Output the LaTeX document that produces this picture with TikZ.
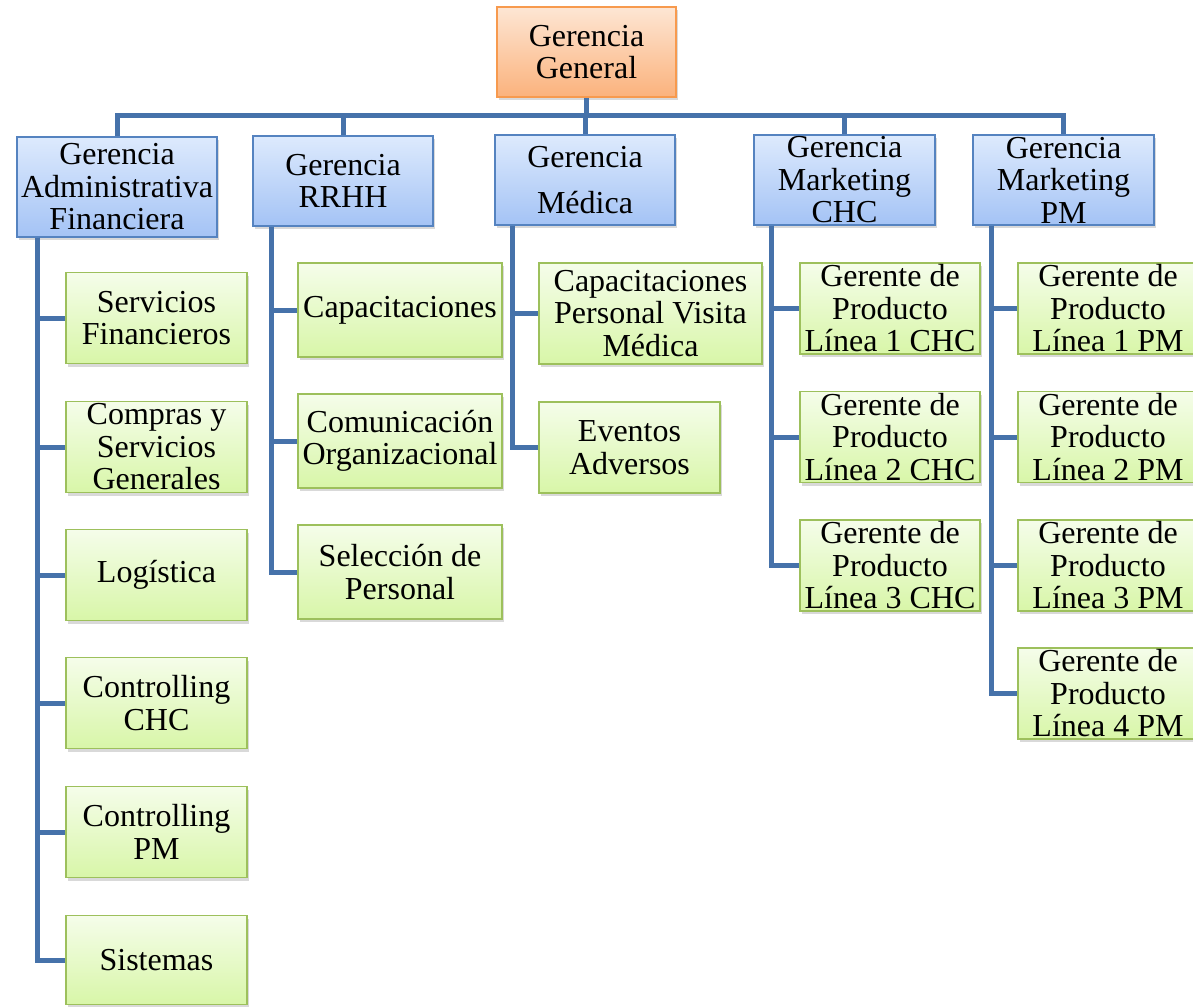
\documentclass[tikz,border=0pt]{standalone}
\usepackage{fontspec}
\setmainfont{Liberation Serif}
\usepackage{tikz}
\usetikzlibrary{positioning, shadows}

\definecolor{linkblue}{HTML}{4672AA}
\definecolor{blueline}{HTML}{5583C0}
\definecolor{bluetop}{HTML}{DDEAFD}
\definecolor{bluebot}{HTML}{A4C3F5}
\definecolor{greenline}{HTML}{9DC05C}
\definecolor{greentop}{HTML}{F5FDEA}
\definecolor{greenbot}{HTML}{D8F6A8}
\definecolor{orangeline}{HTML}{F79A4E}
\definecolor{orangetop}{HTML}{FDE6D4}
\definecolor{orangebot}{HTML}{FBB27C}

\begin{document}
\begin{tikzpicture}[x=1pt, y=-1pt,
  box/.style={draw, line width=1.6pt, inner sep=0pt, align=center,
    font=\fontsize{32}{32.5}\selectfont,
    drop shadow={opacity=0.3, shadow xshift=2pt, shadow yshift=-3pt}},
  topbox/.style={box, draw=orangeline, top color=orangetop, bottom color=orangebot,
    minimum width=179pt, minimum height=90pt},
  headbox/.style={box, draw=blueline, top color=bluetop, bottom color=bluebot,
    minimum width=180pt, minimum height=90pt},
  unitbox/.style={box, draw=greenline, top color=greentop, bottom color=greenbot,
    minimum width=181pt, minimum height=91pt},
  link/.style={draw=linkblue, line width=5pt}]
  \useasboundingbox (0,0) rectangle (1193,1006);
  % Top
  \node[topbox] (gg) at (586.5,52) {Gerencia\\General};
  \coordinate (bus) at (0,116);
  % Managements
  \node[headbox, minimum width=200pt, minimum height=100pt] (adm) at (117,187)
    {Gerencia\\Administrativa\\Financiera};
  \node[headbox] (rrhh) at (343,181) {Gerencia\\RRHH};
  \node[headbox] (med) at (585,180) {Gerencia\\[13pt]Médica};
  \node[headbox, minimum width=181pt] (chc) at (844.5,180) {Gerencia\\Marketing\\CHC};
  \node[headbox, minimum width=181pt] (pm) at (1063.5,180) {Gerencia\\Marketing\\PM};
  % Administrativa Financiera
  \node[unitbox] (sf) at (156.5,318) {Servicios\\Financieros};
  \node[unitbox] (csg) at (156.5,447) {Compras y\\Servicios\\Generales};
  \node[unitbox] (log) at (156.5,575) {Logística};
  \node[unitbox] (cchc) at (156.5,703) {Controlling\\CHC};
  \node[unitbox] (cpm) at (156.5,832) {Controlling\\PM};
  \node[unitbox, minimum height=89pt] (sis) at (156.5,960) {Sistemas};
  % RRHH
  \node[unitbox, minimum width=204pt, minimum height=94pt] (cap) at (400,310) {Capacitaciones};
  \node[unitbox, minimum width=204pt, minimum height=94pt] (com) at (400,441)
    {Comunicación\\Organizacional};
  \node[unitbox, minimum width=204pt, minimum height=94pt] (sel) at (400,572)
    {Selección de\\Personal};
  % Medica
  \node[unitbox, minimum width=223pt, minimum height=101pt] (cpv) at (650.5,313.5)
    {Capacitaciones\\Personal Visita\\Médica};
  \node[unitbox] (eva) at (629.5,447.5) {Eventos\\Adversos};
  % Marketing CHC
  \node[unitbox, minimum width=180pt] (gc1) at (890,308.5) {Gerente de\\Producto\\Línea 1 CHC};
  \node[unitbox, minimum width=180pt] (gc2) at (890,437) {Gerente de\\Producto\\Línea 2 CHC};
  \node[unitbox, minimum width=180pt] (gc3) at (890,565.5) {Gerente de\\Producto\\Línea 3 CHC};
  % Marketing PM
  \node[unitbox, minimum width=180pt] (gp1) at (1108,308.5) {Gerente de\\Producto\\Línea 1 PM};
  \node[unitbox, minimum width=180pt] (gp2) at (1108,437) {Gerente de\\Producto\\Línea 2 PM};
  \node[unitbox, minimum width=180pt] (gp3) at (1108,565.5) {Gerente de\\Producto\\Línea 3 PM};
  \node[unitbox, minimum width=180pt] (gp4) at (1108,693.5) {Gerente de\\Producto\\Línea 4 PM};
  % Bus
  \draw[link] (gg.south) -- (gg.south |- bus);
  \draw[link] (adm.north) |- (pm.north |- bus) -- (pm.north);
  \foreach \m in {rrhh,med,chc}
    \draw[link] (\m.north |- bus) -- (\m.north);
  % Spines
  \foreach \n in {sf,csg,log,cchc,cpm,sis}
    \draw[link] ([xshift=21pt]adm.south west) |- (\n.west);
  \foreach \n in {cap,com,sel}
    \draw[link] ([xshift=19pt]rrhh.south west) |- (\n.west);
  \foreach \n in {cpv,eva}
    \draw[link] ([xshift=18pt]med.south west) |- (\n.west);
  \foreach \n in {gc1,gc2,gc3}
    \draw[link] ([xshift=18pt]chc.south west) |- (\n.west);
  \foreach \n in {gp1,gp2,gp3,gp4}
    \draw[link] ([xshift=19pt]pm.south west) |- (\n.west);
\end{tikzpicture}
\end{document}
